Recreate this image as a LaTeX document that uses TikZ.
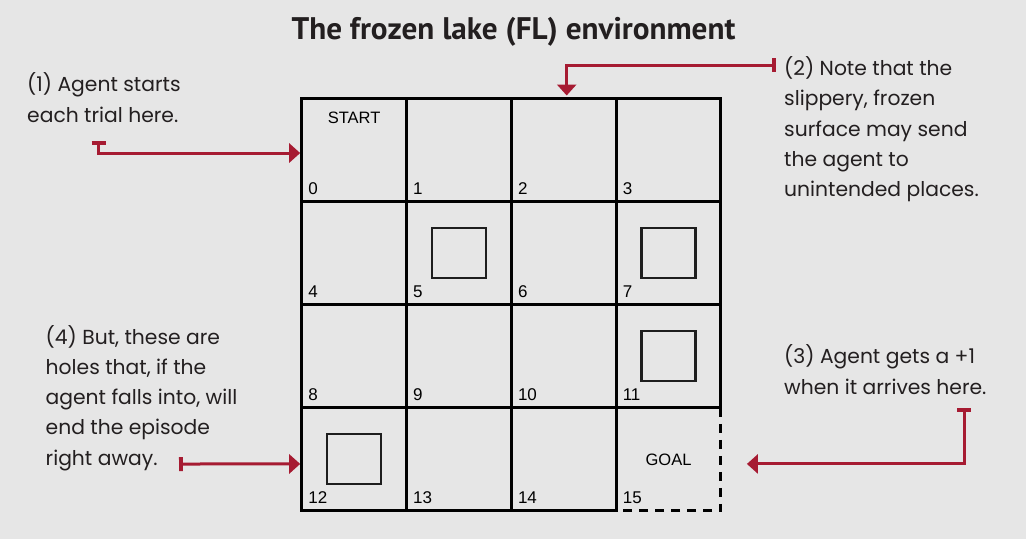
\documentclass[tikz,border=0pt]{standalone}
\usepackage{fontspec}
\setmainfont{Liberation Sans}
\newfontfamily\titlefont{PT Sans}
\newfontfamily\handfont{Poppins}
\usetikzlibrary{arrows.meta}
\definecolor{bg}{HTML}{E6E6E6}
\definecolor{crim}{HTML}{A61B32}
\definecolor{ink}{HTML}{231F20}
\definecolor{holeline}{HTML}{1E1E1E}
\begin{document}
\begin{tikzpicture}[x=1pt,y=-1pt,
  cell/.style={draw=black,line width=3pt,minimum width=104.8pt,minimum height=103.1pt,inner sep=0pt,outer sep=0pt},
  opencell/.style={minimum width=104.8pt,minimum height=103.1pt,inner sep=0pt,outer sep=0pt},
  hole/.style={draw=holeline,line width=2.2pt,minimum width=54pt,minimum height=50pt,inner sep=0pt},
  num/.style={font=\fontsize{17}{20}\selectfont,inner sep=0pt,anchor=base west},
  celltext/.style={font=\fontsize{16.5}{20}\selectfont,inner sep=0pt},
  titletext/.style={font=\titlefont\bfseries\fontsize{31.2}{34}\selectfont,text=ink,inner sep=0pt,anchor=base},
  note/.style={font=\handfont\fontsize{20.3}{30.2}\selectfont,text=ink,inner sep=0pt,align=left,anchor=base west},
  callout/.style={draw=crim,line width=3pt,{Bar[width=14pt,line width=3.8pt]}-{Triangle[length=11pt,width=19pt]}},
  dashedge/.style={draw=black,line width=3pt,dash pattern=on 9pt off 7pt}]
\fill[bg] (0,0) rectangle (1026,539);
\useasboundingbox (0,0) rectangle (1026,539);
% title
\node[titletext] (title) at (513.5,39) {The frozen lake (FL) environment};
% grid
\foreach \i in {0,...,14} {
  \pgfmathtruncatemacro\col{mod(\i,4)}
  \pgfmathtruncatemacro\row{int(\i/4)}
  \node[cell] (c\i) at ({301.7+104.8*(\col+0.5)},{98.5+103.1*(\row+0.5)}) {};
}
\node[opencell] (c15) at ({301.7+104.8*3.5},{98.5+103.1*3.5}) {};
\draw[dashedge] (c15.north east) -- (c15.south east) -- (c15.south west);
% numbers
\foreach \i in {0,...,15} {
  \node[num] (n\i) at ([shift={(6.5,-7.5)}]c\i.south west) {\i};
}
% start / goal
\node[celltext] (start) at ([shift={(0,19.5)}]c0.north) {START};
\node[celltext] (goal) at (c15.center) {GOAL};
% holes
\node[hole] (h5) at (c5.center) {};
\node[hole] (h7) at (c7.center) {};
\node[hole] (h11) at (c11.center) {};
\node[hole] (h12) at (c12.center) {};
% notes (anchor = baseline of last line)
\node[note] (note1) at (27,122) {(1) Agent starts\\each trial here.};
\node[note] (note2) at (784,196.5) {(2) Note that the\\slippery, frozen\\surface may send\\the agent to\\unintended places.};
\node[note] (note3) at (784,394) {(3) Agent gets a +1\\when it arrives here.};
\node[note] (note4) at (45.5,465) {(4) But, these are\\holes that, if the\\agent falls into, will\\end the episode\\right away.};
% callout starts
\coordinate (s1) at (98.5,141);
\coordinate (s2) at (776,65);
\coordinate (s3) at (964,408);
\coordinate (s4) at (179,464);
% callouts
\draw[callout,shorten >=1.5pt] (s1) |- ([shift={(0,3)}]c0.west);
\draw[callout,shorten >=3pt] (s2) -| ([shift={(3,0)}]c2.north);
\draw[callout] (s3) |- ([shift={(26,4.6)}]c15.east);
\draw[callout,shorten >=1.5pt] (s4) -- ([shift={(0,4.6)}]c12.west);
\end{tikzpicture}
\end{document}
